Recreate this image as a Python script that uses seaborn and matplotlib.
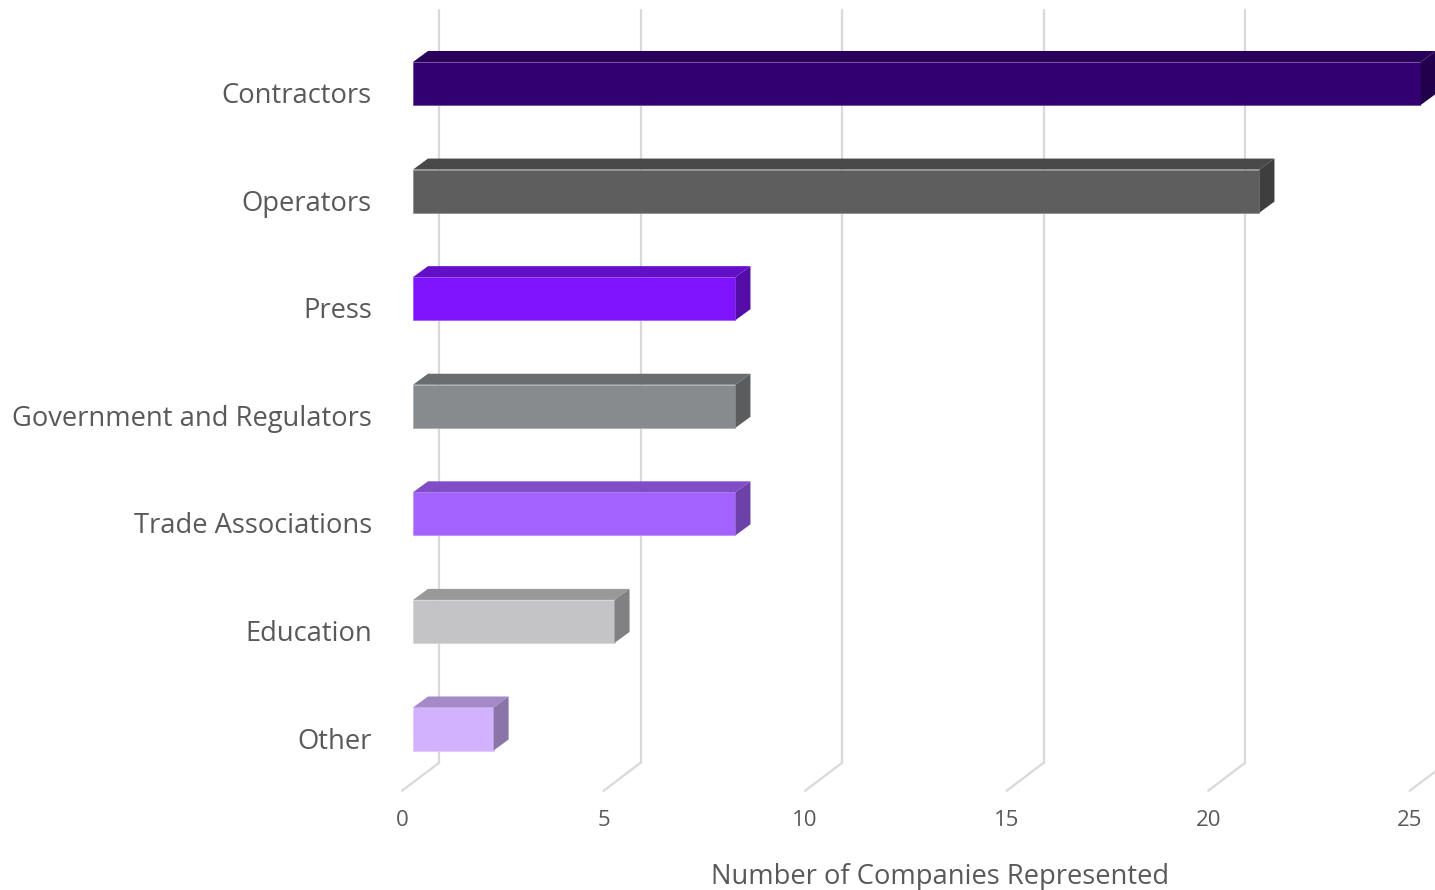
import pandas as pd
import seaborn as sns
import matplotlib.pyplot as plt
from matplotlib.patches import Polygon
from matplotlib.colors import to_rgb
from matplotlib.transforms import ScaledTranslation, IdentityTransform

# Data
categories = [
    "Contractors",
    "Operators",
    "Press",
    "Government and Regulators",
    "Trade Associations",
    "Education",
    "Other",
]

companies = [25, 21, 8, 8, 8, 5, 2]

bar_colors = [
    "#330072",
    "#5e5e5e",
    "#7f12ff",
    "#888b8d",
    "#a463ff",
    "#c4c4c6",
    "#d2b2ff",
]

x_ticks = [0, 5, 10, 15, 20, 25]

df = pd.DataFrame({"category": categories, "companies": companies})

# Style
sns.set_theme(style="white")
plt.rcParams["font.family"] = ["Open Sans", "DejaVu Sans"]

text_color = "#595959"
grid_color = "#d9d9d9"

DPI = 100
W, H = 1435, 890

fig = plt.figure(figsize=(W / DPI, H / DPI), dpi=DPI)
ax = fig.add_axes([413 / W, 107.2 / H, 1007.7 / W, 753.1 / H])

sns.barplot(
    data=df,
    x="companies",
    y="category",
    hue="category",
    palette=bar_colors,
    saturation=1,
    width=0.4,
    orient="h",
    legend=False,
    ax=ax,
    zorder=3,
)

ax.set_xlim(0, 25)
ax.set_ylim(6.5, -0.5)
for s in ax.spines.values():
    s.set_visible(False)


def shade(c, f):
    r, g, b = to_rgb(c)
    return (r * f, g * f, b * f)


def tint(c, f):
    r, g, b = to_rgb(c)
    return (r + (1 - r) * f, g + (1 - g) * f, b + (1 - b) * f)


def shifted(dx, dy):
    return ax.transData + ScaledTranslation(dx / DPI, dy / DPI, fig.dpi_scale_trans)


# depth offsets in pixels (display coords, y up)
back_dx, back_dy = 26, 20      # back wall relative to bar front plane
front_dx, front_dy = -11, -8   # floor front edge relative to bar front plane
bar_dx, bar_dy = 15, 11        # bar depth

# Back wall gridlines + floor lines
for t in x_ticks:
    ax.plot([t, t], [-0.5, 6.5], transform=shifted(back_dx, back_dy),
            color=grid_color, lw=1.6, zorder=0, clip_on=False)
    px, py = ax.transData.transform((t, 6.5))
    ax.plot([px + front_dx, px + back_dx], [py + front_dy, py + back_dy],
            transform=IdentityTransform(), color=grid_color, lw=1.6,
            zorder=0, clip_on=False)

# 3D faces of bars
for patch, col in zip(ax.patches, bar_colors):
    x0, y0 = patch.get_x(), patch.get_y()
    w, h = patch.get_width(), patch.get_height()
    (xl, ya), (xr, yb) = ax.transData.transform([(x0, y0), (x0 + w, y0 + h)])
    yt, ybot = max(ya, yb), min(ya, yb)
    patch.set_edgecolor(tint(col, 0.3))
    patch.set_linewidth(0.6)
    top = Polygon([(xl, yt), (xr, yt), (xr + bar_dx, yt + bar_dy), (xl + bar_dx, yt + bar_dy)],
                  closed=True, facecolor=shade(col, 0.78), edgecolor="none",
                  transform=IdentityTransform(), zorder=3, clip_on=False)
    side = Polygon([(xr, ybot), (xr, yt), (xr + bar_dx, yt + bar_dy), (xr + bar_dx, ybot + bar_dy)],
                   closed=True, facecolor=shade(col, 0.66), edgecolor="none",
                   transform=IdentityTransform(), zorder=3, clip_on=False)
    ax.add_artist(top)
    ax.add_artist(side)

# Ticks
ax.set_xticks(x_ticks)
ax.tick_params(axis="x", length=0, pad=0, labelsize=16, labelcolor=text_color)
ax.tick_params(axis="y", length=0, pad=41 * 0.72, labelsize=19.7, labelcolor=text_color)

for lab in ax.get_xticklabels():
    lab.set_transform(lab.get_transform() + ScaledTranslation(-11 / DPI, -38 / DPI, fig.dpi_scale_trans))
    lab.set_va("center")

for lab in ax.get_yticklabels():
    lab.set_transform(lab.get_transform() + ScaledTranslation(0, -9 / DPI, fig.dpi_scale_trans))

ax.set_ylabel("")
ax.set_xlabel("Number of Companies Represented", fontsize=19.7, color=text_color)
ax.xaxis.set_label_coords(0.523, -0.125)
ax.xaxis.label.set_va("center")

plt.savefig("out.png", dpi=DPI)
plt.close()
